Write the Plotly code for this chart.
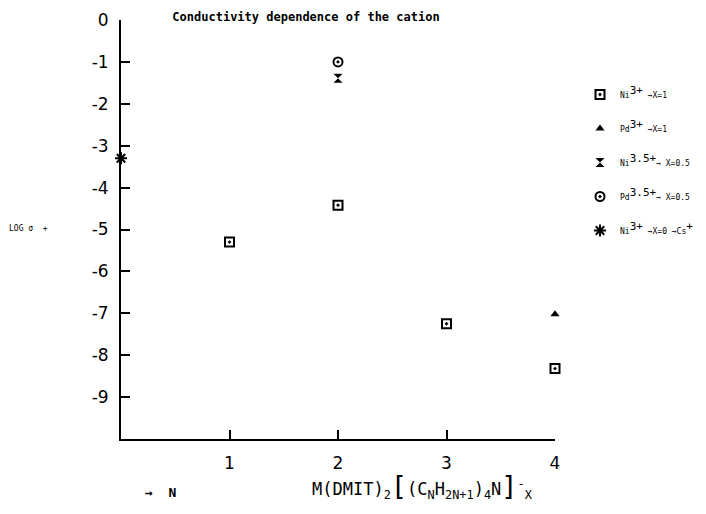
import plotly.graph_objects as go

# ---- data ----
ni3_x1_n = [1, 2, 3, 4]
ni3_x1_logs = [-5.3, -4.42, -7.25, -8.32]

pd3_x1_n = [4]
pd3_x1_logs = [-7.02]

ni35_n = [2]
ni35_logs = [-1.39]

pd35_n = [2]
pd35_logs = [-1.0]

ni3_cs_n = [0]
ni3_cs_logs = [-3.3]

x_tick_vals = [1, 2, 3, 4]
x_tick_text = ["1", "2", "3", "4"]
y_tick_vals = [0, -1, -2, -3, -4, -5, -6, -7, -8, -9]
y_tick_text = ["0", "-1", "-2", "-3", "-4", "-5", "-6", "-7", "-8", "-9"]

SUP = "<sup><span style='font-size:11px'>{}</span></sup>"
legend_names = [
    "Ni" + SUP.format("3+") + " →X=1",
    "Pd" + SUP.format("3+") + " →X=1",
    "Ni" + SUP.format("3.5+") + "→ X=0.5",
    "Pd" + SUP.format("3.5+") + "→ X=0.5",
    "Ni" + SUP.format("3+") + " →X=0 →Cs" + SUP.format("+"),
]

# page body has an 8px margin: compensate
OFF = 8
W, H = 706 - 2 * OFF, 514 - 2 * OFF
L, T = 121 - OFF, 20 - OFF
PW, PH = 434, 419
R = W - L - PW
B = H - T - PH


def px_x(px):
    return (px - OFF - L) / PW


def px_y(py):
    return 1 - (py - OFF - T) / PH


fig = go.Figure()

series = [
    (ni3_x1_n, ni3_x1_logs, "square-open-dot", 9, 2),
    (pd3_x1_n, pd3_x1_logs, "triangle-up", 8, 0),
    (ni35_n, ni35_logs, "hourglass", 9, 0),
    (pd35_n, pd35_logs, "circle-open-dot", 9, 2),
    (ni3_cs_n, ni3_cs_logs, "asterisk-open", 10, 2),
]
for i, (xs, ys, sym, sz, lw) in enumerate(series):
    fig.add_trace(go.Scatter(
        x=xs, y=ys, mode="markers", name=legend_names[i],
        legendgroup=f"g{i}",
        marker=dict(symbol=sym, size=sz, color="black",
                    line=dict(color="black", width=lw)),
        cliponaxis=False,
    ))

mono = "DejaVu Sans Mono"

fig.update_layout(
    width=W, height=H,
    margin=dict(l=L, r=R, t=T, b=B, autoexpand=False),
    paper_bgcolor="white", plot_bgcolor="white",
    showlegend=True,
    legend=dict(
        x=px_x(580), xanchor="left",
        y=px_y(80), yanchor="top",
        font=dict(family=mono, size=8, color="black"),
        tracegroupgap=15,
        bgcolor="rgba(0,0,0,0)",
    ),
    title=dict(
        text="<b>Conductivity dependence of the cation</b>",
        font=dict(family=mono, size=12, color="black"),
        x=px_x(306), xref="paper", xanchor="center",
        y=1 - (17 - OFF) / H, yref="container", yanchor="middle",
    ),
    xaxis=dict(
        range=[0, 4], showgrid=False, zeroline=False, automargin=False,
        showline=True, linecolor="black", linewidth=2,
        ticks="inside", ticklen=9, tickwidth=2, tickcolor="black",
        tickvals=x_tick_vals, ticktext=x_tick_text,
        ticklabelstandoff=8,
        tickfont=dict(family="DejaVu Sans", size=17, color="black"),
    ),
    yaxis=dict(
        range=[-10, 0], showgrid=False, zeroline=False, automargin=False,
        showline=True, linecolor="black", linewidth=2,
        ticks="inside", ticklen=9, tickwidth=1.5, tickcolor="black",
        tickvals=y_tick_vals, ticktext=y_tick_text,
        ticklabelstandoff=7,
        tickfont=dict(family="DejaVu Sans", size=17, color="black"),
    ),
)

fig.add_annotation(
    text="LOG σ\u00a0 +", xref="paper", yref="paper",
    x=px_x(7), xanchor="left",
    y=px_y(228), yanchor="middle",
    showarrow=False, font=dict(family=mono, size=8, color="black"),
)
fig.add_annotation(
    text="<b>→\u00a0 N</b>", xref="paper", yref="paper",
    x=px_x(143), xanchor="left",
    y=px_y(492), yanchor="middle",
    showarrow=False, font=dict(family=mono, size=13, color="black"),
)
fig.add_annotation(
    text="M(DMIT)<sub>2</sub><span style='font-size:27px'>[</span>(C<sub>N</sub>H<sub>2N+1</sub>)<sub>4</sub>N<span style='font-size:27px'>]</span><sup>-</sup><sub>X</sub>",
    xref="paper", yref="paper",
    x=px_x(310), xanchor="left",
    y=px_y(486), yanchor="middle",
    showarrow=False, font=dict(family=mono, size=17, color="black"),
)

fig.write_html("out.html")
